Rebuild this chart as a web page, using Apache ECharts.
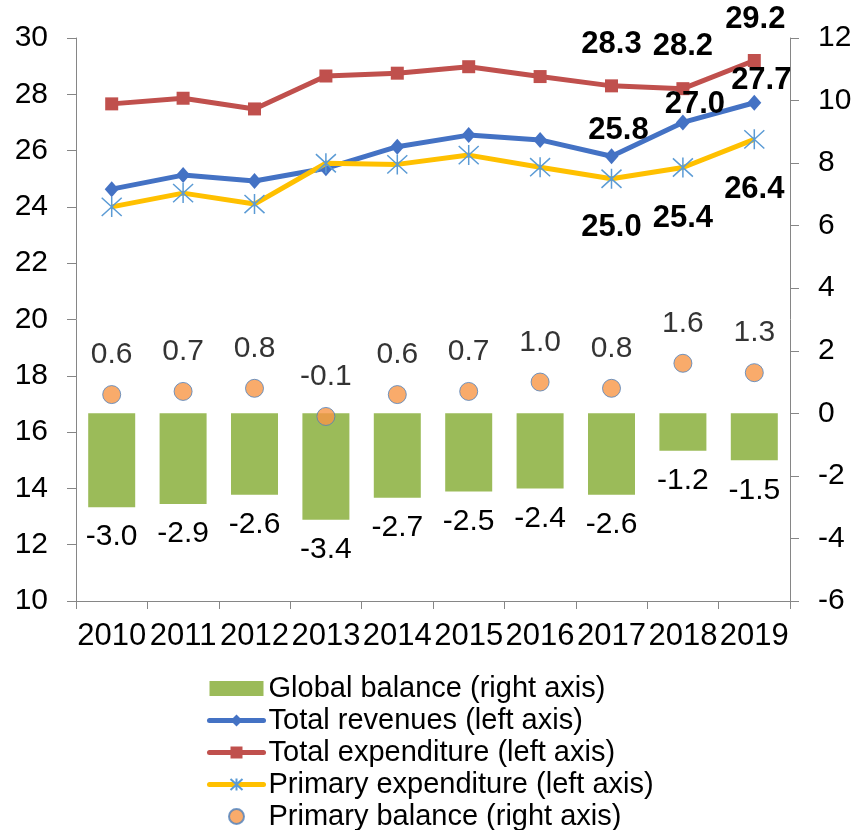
<!DOCTYPE html>
<html>
<head>
<meta charset="utf-8">
<script src="https://cdn.jsdelivr.net/npm/echarts@6/dist/echarts.min.js"></script>
<style>
html,body{margin:0;padding:0;background:#fff;}
#chart{width:856px;height:830px;}
</style>
</head>
<body>
<div id="chart"></div>
<script>
var years = ['2010','2011','2012','2013','2014','2015','2016','2017','2018','2019'];
var globalBalance = [-3.0, -2.9, -2.6, -3.4, -2.7, -2.5, -2.4, -2.6, -1.2, -1.5];
var totalRevenues = [24.63, 25.13, 24.92, 25.37, 26.14, 26.55, 26.38, 25.8, 27.0, 27.7];
var totalExpenditure = [27.66, 27.86, 27.48, 28.65, 28.75, 28.98, 28.63, 28.3, 28.2, 29.2];
var primaryExpenditure = [24.0, 24.49, 24.1, 25.55, 25.51, 25.84, 25.41, 25.0, 25.4, 26.4];
var primaryBalance = [0.6, 0.7, 0.8, -0.1, 0.6, 0.7, 1.0, 0.8, 1.6, 1.3];
var leftTicks = [10, 30, 2];
var rightTicks = [-6, 12, 2];

var FONT = '"Liberation Sans", Arial, sans-serif';

function labelled(values, cfg) {
  return values.map(function (v, i) {
    var c = cfg[i];
    if (!c) return { value: v };
    return {
      value: v,
      label: {
        show: true,
        position: c.pos,
        offset: c.off,
        formatter: function (p) { return Number(p.value).toFixed(1); }
      }
    };
  });
}

var revLabels = { 7: { pos: 'top', off: [7, 3] }, 8: { pos: 'top', off: [12, 11] }, 9: { pos: 'top', off: [7, 6] } };
var expLabels = { 7: { pos: 'top', off: [0, -14] }, 8: { pos: 'top', off: [0, -15] }, 9: { pos: 'top', off: [1, -14] } };
var pexLabels = { 7: { pos: 'bottom', off: [0, 17] }, 8: { pos: 'bottom', off: [0, 20] }, 9: { pos: 'bottom', off: [0, 19] } };

var boldLabel = { color: '#000', fontFamily: FONT, fontSize: 31, fontWeight: 'bold' };
var axisGray = '#868686';

var chart = echarts.init(document.getElementById('chart'), null, { renderer: 'canvas' });
chart.setOption({
  animation: false,
  backgroundColor: '#fff',
  textStyle: { fontFamily: FONT },
  grid: { left: 76, right: 66, top: 38, bottom: 229, containLabel: false },
  legend: {
    orient: 'vertical',
    left: 207,
    top: 674,
    height: 300,
    padding: 0,
    itemWidth: 54,
    itemHeight: 15,
    itemGap: 3,
    lineStyle: { width: 5, cap: 'round' },
    textStyle: { fontFamily: FONT, fontSize: 29, color: '#000' },
    data: [
      { name: 'Global balance (right axis)', icon: 'rect' },
      'Total revenues (left axis)',
      'Total expenditure (left axis)',
      'Primary expenditure (left axis)',
      'Primary balance (right axis)'
    ]
  },
  xAxis: {
    type: 'category',
    data: years,
    boundaryGap: true,
    axisLine: { show: true, onZero: false, lineStyle: { color: axisGray, width: 1 } },
    axisTick: { show: true, alignWithLabel: false, length: 8, lineStyle: { color: axisGray } },
    axisLabel: { interval: 0, color: '#000', fontFamily: FONT, fontSize: 31, margin: 20 },
    splitLine: { show: false }
  },
  yAxis: [
    {
      type: 'value', min: leftTicks[0], max: leftTicks[1], interval: leftTicks[2], position: 'left',
      axisLine: { show: true, lineStyle: { color: axisGray } },
      axisTick: { show: true, length: 9, lineStyle: { color: axisGray } },
      axisLabel: { color: '#000', fontFamily: FONT, fontSize: 30, margin: 28 },
      splitLine: { show: false }
    },
    {
      type: 'value', min: rightTicks[0], max: rightTicks[1], interval: rightTicks[2], position: 'right',
      axisLine: { show: true, lineStyle: { color: axisGray } },
      axisTick: { show: true, length: 9, lineStyle: { color: axisGray } },
      axisLabel: { color: '#000', fontFamily: FONT, fontSize: 30, margin: 28 },
      splitLine: { show: false }
    }
  ],
  series: [
    {
      name: 'Global balance (right axis)',
      type: 'bar',
      yAxisIndex: 1,
      data: globalBalance,
      barWidth: 47,
      itemStyle: { color: '#9BBB59' },
      label: {
        show: true, position: 'bottom', distance: 15,
        color: '#000', fontFamily: FONT, fontSize: 30,
        formatter: function (p) { return p.value.toFixed(1); }
      },
      z: 1
    },
    {
      name: 'Total revenues (left axis)',
      type: 'line',
      yAxisIndex: 0,
      data: labelled(totalRevenues, revLabels),
      symbol: 'diamond',
      symbolSize: [14, 16],
      showAllSymbol: true,
      lineStyle: { color: '#4472C4', width: 5 },
      itemStyle: { color: '#4472C4' },
      label: boldLabel,
      z: 3
    },
    {
      name: 'Total expenditure (left axis)',
      type: 'line',
      yAxisIndex: 0,
      data: labelled(totalExpenditure, expLabels),
      symbol: 'rect',
      symbolSize: 13,
      showAllSymbol: true,
      lineStyle: { color: '#C0504D', width: 5 },
      itemStyle: { color: '#C0504D' },
      label: boldLabel,
      z: 3
    },
    {
      name: 'Primary expenditure (left axis)',
      type: 'line',
      yAxisIndex: 0,
      data: labelled(primaryExpenditure, pexLabels),
      symbol: 'path://M0,0L20,20M20,0L0,20M10,-1L10,21',
      symbolSize: 20,
      showAllSymbol: true,
      lineStyle: { color: '#FFC000', width: 5 },
      itemStyle: { color: 'rgba(0,0,0,0)', borderColor: '#5B9BD5', borderWidth: 1.5 },
      label: boldLabel,
      z: 4
    },
    {
      name: 'Primary balance (right axis)',
      type: 'scatter',
      yAxisIndex: 1,
      data: primaryBalance,
      symbol: 'circle',
      symbolSize: 18,
      itemStyle: { color: '#F79646', borderColor: '#4F81BD', borderWidth: 1 },
      label: {
        show: true, position: 'top', distance: 15,
        color: '#000', fontFamily: FONT, fontSize: 30,
        formatter: function (p) { return p.value.toFixed(1); }
      },
      z: 5
    }
  ]
});
</script>
</body>
</html>
